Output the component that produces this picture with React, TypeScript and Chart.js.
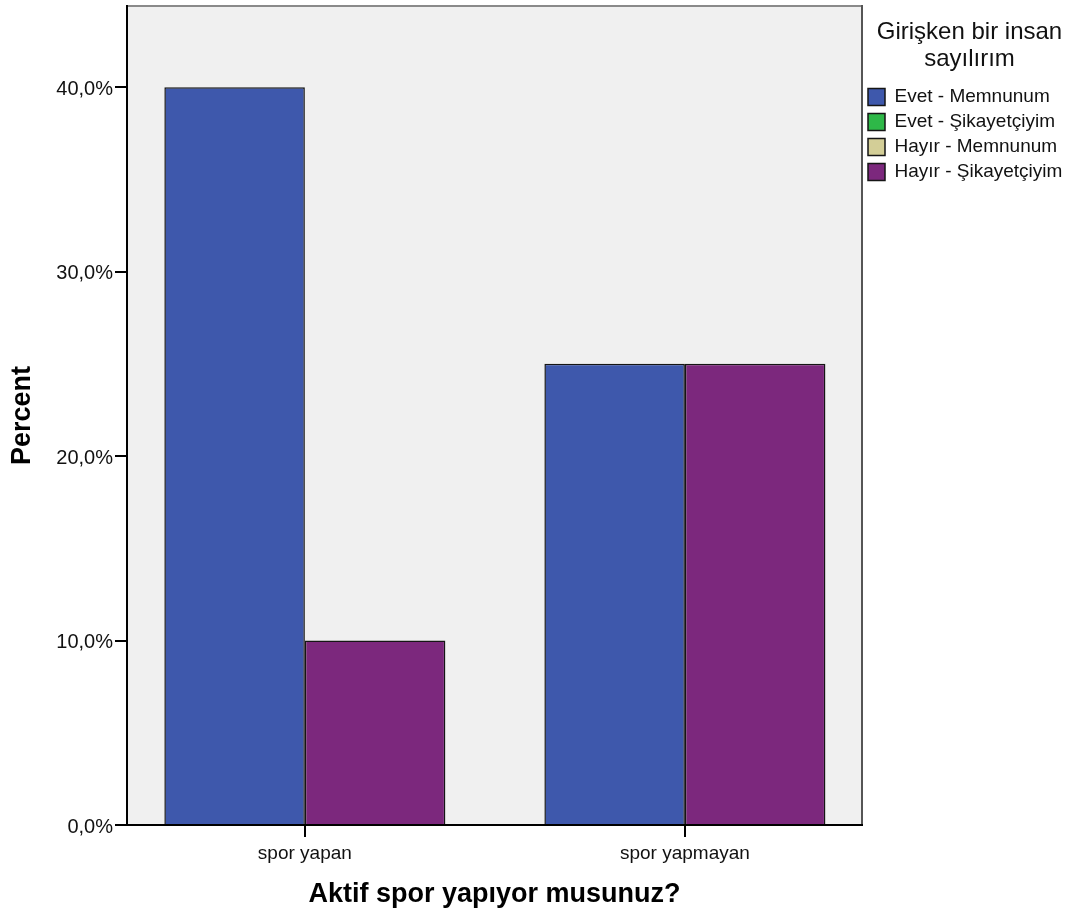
import React, { useEffect, useRef } from "react";
import { Chart, registerables } from "chart.js";

Chart.register(...registerables);

const categories = ["spor yapan", "spor yapmayan"];
const seriesNames = ["Evet - Memnunum", "Evet - Şikayetçiyim", "Hayır - Memnunum", "Hayır - Şikayetçiyim"];
const evetMemnunum = [40, 25];
const evetSikayetciyim: (number | null)[] = [null, null];
const hayirMemnunum: (number | null)[] = [null, null];
const hayirSikayetciyim = [10, 25];
const seriesColors = ["#3E58AC", "#2EB848", "#D3CE97", "#7C287D"];
const legendTitle = ["Girişken bir insan", "sayılırım"];
const yTitle = "Percent";
const xTitle = "Aktif spor yapıyor musunuz?";
const yMax = 44.4;
const yStep = 10;

const FONT = '"Liberation Sans", Arial, sans-serif';

export default function App() {
  const ref = useRef<HTMLCanvasElement | null>(null);

  useEffect(() => {
    document.body.style.margin = "0";
    const canvas = ref.current;
    if (!canvas) return;
    Chart.defaults.font.family = FONT;
    Chart.defaults.color = "#111";

    const values = [evetMemnunum, evetSikayetciyim, hayirMemnunum, hayirSikayetciyim];

    const framePlugin = {
      id: "frame",
      beforeLayout(chart: any) {
        const lg = chart.legend;
        if (lg && !lg.__patched) {
          const orig = lg.fit;
          lg.fit = function () {
            orig.call(this);
            this.width = 215;
          };
          lg.__patched = true;
        }
      },
      beforeDraw(chart: any) {
        const { ctx, chartArea } = chart;
        const { left, top, right, bottom } = chartArea;
        ctx.save();
        ctx.fillStyle = "#F0F0F0";
        ctx.fillRect(left, top, right - left, bottom - top);
        ctx.lineWidth = 2;
        ctx.strokeStyle = "#8a8a8a";
        ctx.beginPath();
        ctx.moveTo(left, top);
        ctx.lineTo(right, top);
        ctx.stroke();
        ctx.strokeStyle = "#555";
        ctx.beginPath();
        ctx.moveTo(right, top - 1);
        ctx.lineTo(right, bottom);
        ctx.stroke();
        ctx.restore();
      },
    };

    const chart = new Chart(canvas, {
      type: "bar",
      data: {
        labels: categories,
        datasets: seriesNames.map((name, i) => ({
          label: name,
          data: values[i] as any,
          backgroundColor: seriesColors[i],
          borderColor: "#151515",
          borderWidth: 1.5,
          skipNull: true,
          categoryPercentage: 0.7395,
          barPercentage: 1,
        })),
      },
      options: {
        animation: false,
        responsive: false,
        devicePixelRatio: 1,
        layout: { padding: { top: 6, left: 0, right: 0, bottom: 0 } },
        plugins: {
          tooltip: { enabled: false },
          legend: {
            position: "right",
            align: "start",
            title: {
              display: true,
              text: legendTitle,
              color: "#111",
              font: { size: 24, lineHeight: 27 / 24 },
              padding: { top: 14, bottom: 34.5 },
            },
            labels: {
              color: "#111",
              font: { size: 19 },
              boxWidth: 17,
              boxHeight: 17,
              padding: 6,
            },
          },
        },
        scales: {
          x: {
            type: "category",
            offset: true,
            afterBuildTicks: (axis: any) => {
              axis._startValue = -0.468;
              axis._valueRange = 1.934;
            },
            afterFit: (axis: any) => {
              axis.height = 91;
              axis.paddingLeft = 0;
              axis.paddingRight = 0;
            },
            grid: {
              offset: false,
              drawOnChartArea: false,
              drawTicks: true,
              tickLength: 12,
              color: "#000",
              lineWidth: 2,
            },
            border: { display: true, color: "#000", width: 2 },
            ticks: { font: { size: 19 }, color: "#111", padding: 5, maxRotation: 0 },
            title: {
              display: true,
              text: xTitle,
              color: "#000",
              font: { size: 27, weight: "bold" },
              padding: { top: 0, bottom: 5 },
            },
          },
          y: {
            type: "linear",
            min: 0,
            max: yMax,
            afterFit: (axis: any) => {
              axis.width = 127;
              axis.paddingTop = 0;
              axis.paddingBottom = 0;
            },
            grid: {
              drawOnChartArea: false,
              drawTicks: true,
              tickLength: 12,
              color: "#000",
              lineWidth: 2,
            },
            border: { display: true, color: "#000", width: 2 },
            ticks: {
              stepSize: yStep,
              includeBounds: false,
              font: { size: 20 },
              color: "#111",
              padding: 2,
              labelOffset: 2,
              callback: (v: any) => Number(v).toFixed(1).replace(".", ",") + "%",
            },
            title: {
              display: true,
              text: yTitle,
              color: "#000",
              font: { size: 27, weight: "bold" },
              padding: { top: 6, bottom: 0 },
            },
          },
        },
      },
      plugins: [framePlugin],
    } as any);

    return () => chart.destroy();
  }, []);

  return (
    <div style={{ width: 1077, height: 916 }}>
      <canvas ref={ref} width={1077} height={916} style={{ width: 1077, height: 916, display: "block" }} />
    </div>
  );
}
